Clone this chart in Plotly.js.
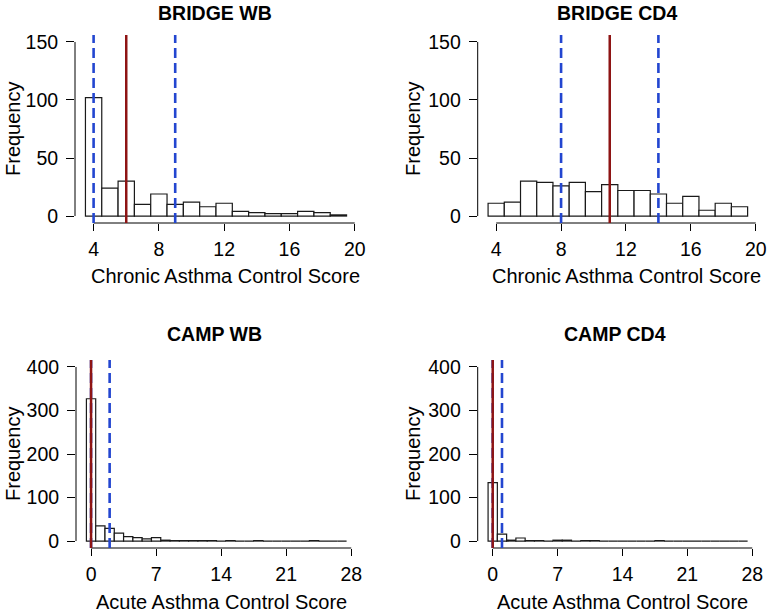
<!DOCTYPE html>
<html>
<head>
<meta charset="utf-8">
<script src="https://cdn.plot.ly/plotly-3.0.1.min.js"></script>
<style>html,body{margin:0;padding:0;background:#fff;}#chart{width:770px;height:613px;}</style>
</head>
<body>
<div id="chart"></div>
<script>
// ---- data ----
const bridgeBins = [4,5,6,7,8,9,10,11,12,13,14,15,16,17,18,19];
const bridgeWB   = [102,24,30,10,19,10,12,8,11,4,3,2,2,4,3,1];
const bridgeCD4  = [11,12,30,29,26,29,21,27,22,22,19,11,17,5,11,8];
const campBins = [0,1,2,3,4,5,6,7,8,9,10,11,12,13,14,15,16,17,18,19,20,21,22,23,24,25,26,27];
const campWB   = [327,35,29,18,10,8,5,8,2,1,1,1,1,1,0,1,0,0,1,0,0,0,0,0,1,0,0,0];
const campCD4  = [134,16,2,7,1,1,0,2,2,0,1,1,0,0,0,0,0,0,1,0,0,0,0,0,0,0,0,0];
const panelTitles = ["BRIDGE WB","BRIDGE CD4","CAMP WB","CAMP CD4"];
const xLabels = ["Chronic Asthma Control Score","Chronic Asthma Control Score","Acute Asthma Control Score","Acute Asthma Control Score"];
const yLabel = "Frequency";
// median and quartiles
const medians = [6, 11, 0, 0];
const quartiles = [[4,9],[8,14],[0,2],[0,1]];
const bridgeXTicks = [4,8,12,16,20];
const bridgeYTicks = [0,50,100,150];
const campXTicks = [0,7,14,21,28];
const campYTicks = [0,100,200,300,400];

// ---- build ----
const W = 770, H = 613;
const FONT = "Liberation Sans, Arial, Helvetica, sans-serif";
const panels = [
  {bins: bridgeBins, counts: bridgeWB, xt: bridgeXTicks, yt: bridgeYTicks, xr:[2.86,20.14], yr:[-6,156], xd:[75,357], yd:[35,223]},
  {bins: bridgeBins, counts: bridgeCD4, xt: bridgeXTicks, yt: bridgeYTicks, xr:[2.86,20.14], yr:[-6,156], xd:[477.7,758], yd:[35,223]},
  {bins: campBins, counts: campWB, xt: campXTicks, yt: campYTicks, xr:[-1.62,28.62], yr:[-16,416], xd:[76,357], yd:[360,548]},
  {bins: campBins, counts: campCD4, xt: campXTicks, yt: campYTicks, xr:[-1.62,28.62], yr:[-16,416], xd:[477.7,758], yd:[360,548]}
];
const titlePos = [[215,13],[617,13],[214,334],[615,334]];
const xlabPos = [[225,276],[626,276],[221,602],[622,602]];
const ylabPos = [[13,129],[413,129],[13,454],[413,454]];

const traces = [];
const layout = {
  width: W, height: H,
  margin: {l:0,r:0,t:0,b:0},
  paper_bgcolor: "#fff", plot_bgcolor: "#fff",
  showlegend: false,
  font: {family: FONT, size: 19, color: "#000"},
  bargap: 0,
  shapes: [], annotations: []
};

panels.forEach((p, i) => {
  const n = i === 0 ? "" : String(i + 1);
  const xa = "x" + n, ya = "y" + n;
  traces.push({
    type: "bar", x: p.bins, y: p.counts, width: 1,
    xaxis: xa, yaxis: ya,
    marker: {color: "#fff", line: {color: "#1a1a1a", width: 1.2}},
    hoverinfo: "x+y"
  });
  layout["xaxis" + n] = {
    domain: [p.xd[0]/W, p.xd[1]/W], anchor: ya, range: p.xr,
    tickmode: "array", tickvals: p.xt, ticktext: p.xt.map(String),
    ticks: "outside", ticklen: 7, tickwidth: 1, tickcolor: "#000",
    showline: false, showgrid: false, zeroline: false,
    tickfont: {family: FONT, size: 19.5, color: "#000"}, ticklabelstandoff: 2,
    fixedrange: true
  };
  layout["yaxis" + n] = {
    domain: [1 - p.yd[1]/H, 1 - p.yd[0]/H], anchor: xa, range: p.yr,
    tickmode: "array", tickvals: p.yt, ticktext: p.yt.map(String),
    ticks: "outside", ticklen: 8, tickwidth: 1, tickcolor: "#000",
    showline: false, showgrid: false, zeroline: false,
    tickfont: {family: FONT, size: 19.5, color: "#000"}, ticklabelstandoff: 4,
    fixedrange: true
  };
  // R-style axis lines spanning first to last tick
  layout.shapes.push({type:"line", xref: xa, yref: ya + " domain",
    x0: p.xt[0], x1: p.xt[p.xt.length-1], y0: 0, y1: 0,
    line: {color:"#000", width:1}});
  layout.shapes.push({type:"line", xref: xa + " domain", yref: ya,
    x0: 0, x1: 0, y0: p.yt[0], y1: p.yt[p.yt.length-1],
    line: {color:"#000", width:1}});
  // quartile lines (blue dashed)
  quartiles[i].forEach(q => {
    layout.shapes.push({type:"line", xref: xa, yref: ya + " domain",
      x0: q, x1: q, y0: 0, y1: 1,
      line: {color:"#2346d0", width:2.6, dash:"10px,5px"}});
  });
  // median line (dark red)
  layout.shapes.push({type:"line", xref: xa, yref: ya + " domain",
    x0: medians[i], x1: medians[i], y0: 0, y1: 1,
    line: {color:"#8e1414", width:2.5}});

  layout.annotations.push({text: "<b>" + panelTitles[i] + "</b>", xref:"paper", yref:"paper",
    x: titlePos[i][0]/W, y: 1 - titlePos[i][1]/H, xanchor:"center", yanchor:"middle",
    showarrow:false, font:{family: FONT, size: 19.5, color:"#000"}});
  layout.annotations.push({text: xLabels[i], xref:"paper", yref:"paper",
    x: xlabPos[i][0]/W, y: 1 - xlabPos[i][1]/H, xanchor:"center", yanchor:"middle",
    showarrow:false, font:{family: FONT, size: 20, color:"#000"}});
  layout.annotations.push({text: yLabel, xref:"paper", yref:"paper", textangle: -90,
    x: ylabPos[i][0]/W, y: 1 - ylabPos[i][1]/H, xanchor:"center", yanchor:"middle",
    showarrow:false, font:{family: FONT, size: 20, color:"#000"}});
});

Plotly.newPlot("chart", traces, layout, {displayModeBar: false, staticPlot: true});
</script>
</body>
</html>
